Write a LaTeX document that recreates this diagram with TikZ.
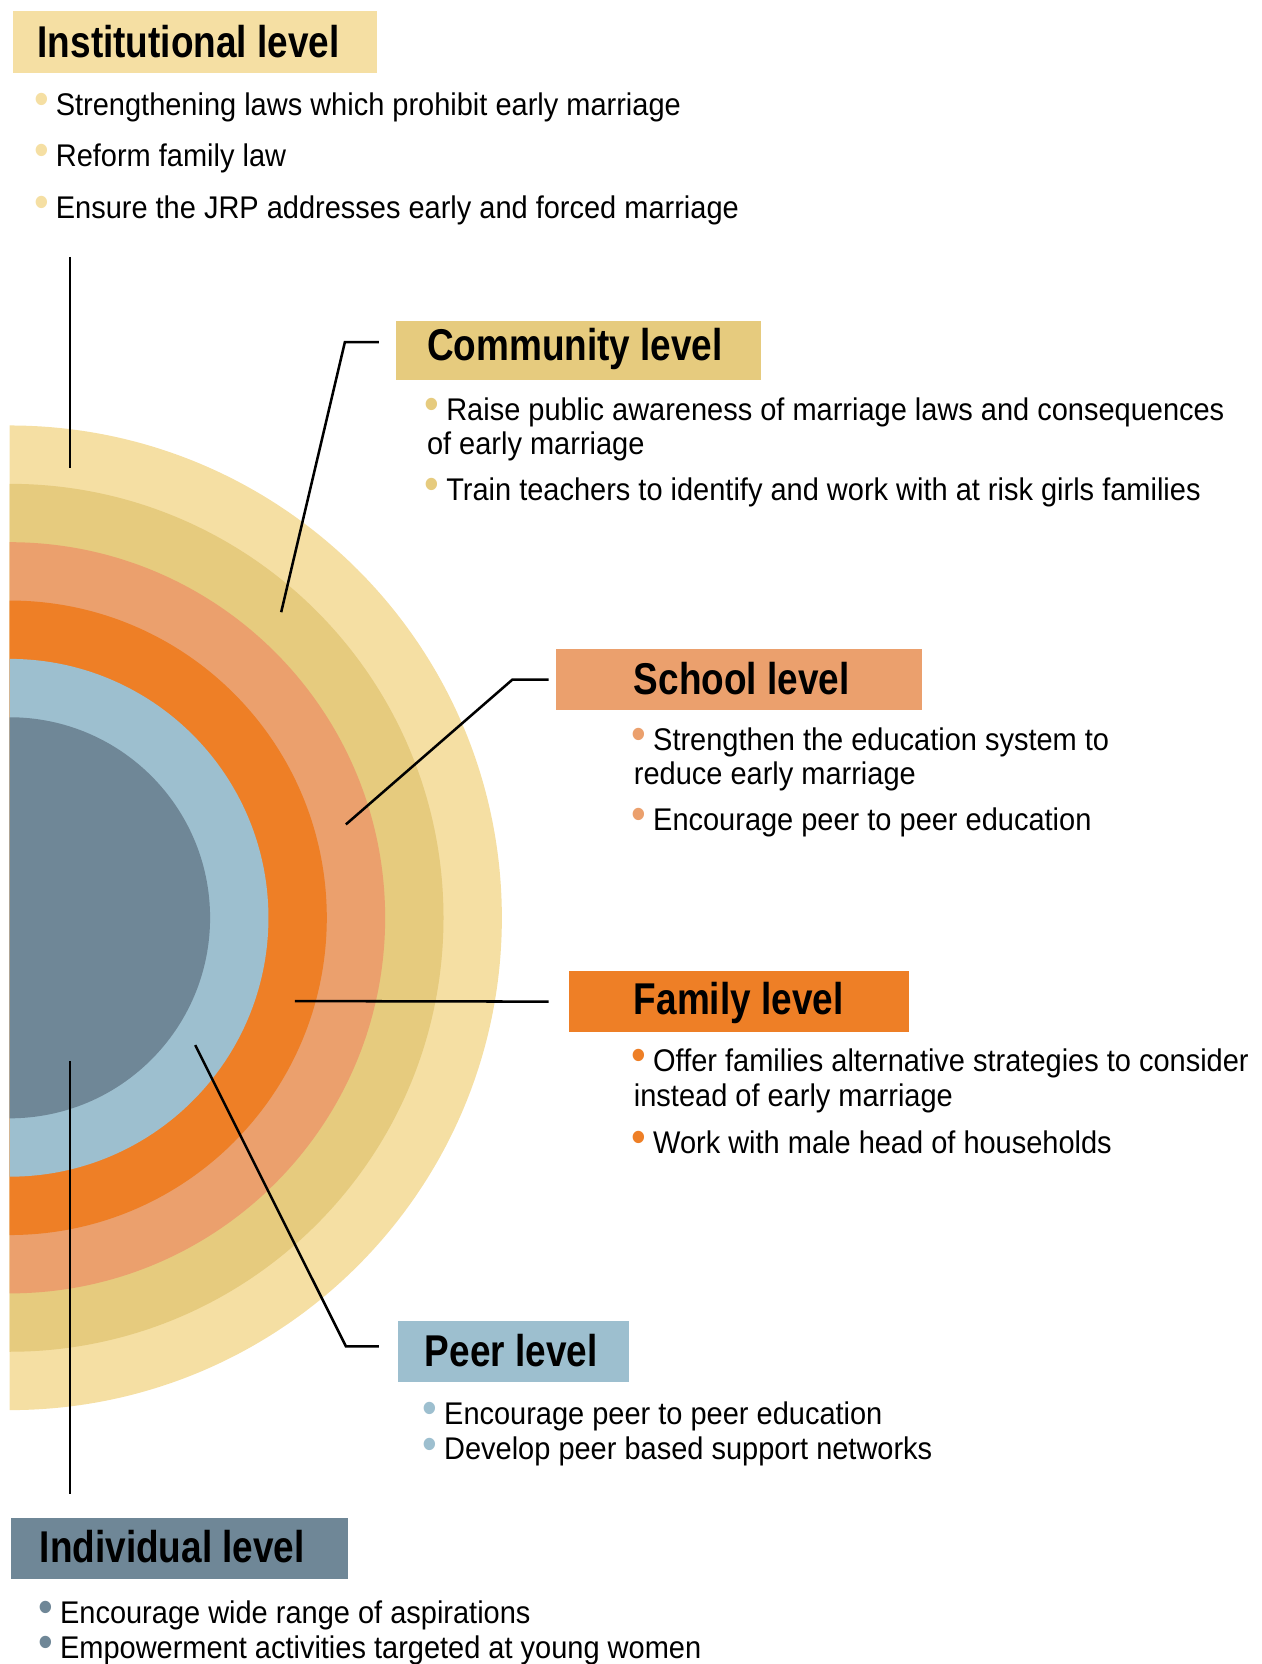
\documentclass[tikz,border=0pt]{standalone}
\usepackage{fontspec}
\setmainfont{Liberation Sans}[FakeStretch=0.925]
\newfontfamily\headfont{Liberation Sans}[FakeStretch=0.83]

\definecolor{instcol}{RGB}{245,223,163}
\definecolor{commcol}{RGB}{230,203,126}
\definecolor{schoolcol}{RGB}{235,160,109}
\definecolor{famcol}{RGB}{238,127,38}
\definecolor{peercol}{RGB}{157,191,207}
\definecolor{indivcol}{RGB}{111,135,151}

\newcommand{\lvdot}[1]{\textcolor{#1}{\raisebox{0.05ex}{\scalebox{1.45}{•}}}\hspace{5pt}}

\tikzset{every picture/.style={line width=0.75pt}}
\tikzset{
  banner/.style={anchor=north west, rectangle, inner sep=0pt, draw=none},
  head/.style={anchor=west, inner sep=0pt, font=\fontsize{33.4}{36}\headfont\bfseries},
  item/.style={anchor=base west, inner sep=0pt, text height=16pt, text depth=5pt, font=\fontsize{23.5}{27}\selectfont},
  tightlist/.style={anchor=base west, inner sep=0pt, align=left, font=\fontsize{23.5}{26.5}\selectfont},
  leader/.style={line width=1.9pt, line join=miter}
}

\begin{document}
\begin{tikzpicture}[x=0.7958pt,y=0.7958pt,yscale=-1,xscale=1]
		\useasboundingbox (0,0) rectangle (1188.5,1568.3);

		%Rings, cut at the left edge
		\begin{scope}
		\clip (9,380) rectangle (520,1350);
		\fill [instcol] (9,865) circle (464);
		\fill [commcol] (9,865) circle (409);
		\fill [schoolcol] (9,865) circle (354);
		\fill [famcol] (9,865) circle (299);
		\fill [peercol] (9,865) circle (244);
		\fill [indivcol] (9,865) circle (189);
		\end{scope}

		%Banners
		\node [banner, fill=instcol, minimum width=273pt, minimum height=46.2pt] (inst) at (12,10) {};
		\node [banner, fill=commcol, minimum width=273.8pt, minimum height=44.6pt] (comm) at (373,302) {};
		\node [banner, fill=schoolcol, minimum width=273.8pt, minimum height=46.2pt] (school) at (524,611) {};
		\node [banner, fill=famcol, minimum width=254.7pt, minimum height=45.4pt] (fam) at (536,915) {};
		\node [banner, fill=peercol, minimum width=172.7pt, minimum height=45.4pt] (peer) at (375,1245) {};
		\node [banner, fill=indivcol, minimum width=253pt, minimum height=46.2pt] (indiv) at (10,1430) {};

		% Heading Nodes
		\node [head] (insthead) at (35,39) {Institutional level};
		\node [head] (commhead) at (402,329) {Community level};
		\node [head] (schoolhead) at (597,640) {School level};
		\node [head] (famhead) at (597,945) {Family level};
		\node [head] (peerhead) at (400,1273) {Peer level};
		\node [head] (indivhead) at (37,1458) {Individual level};

		% Institutional items
		\node [item] (inst1) at (32,109) {\lvdot{instcol}Strengthening laws which prohibit early marriage};
		\node [item] (inst2) at (32,157) {\lvdot{instcol}Reform family law};
		\node [item] (inst3) at (32,206) {\lvdot{instcol}Ensure the JRP addresses early and forced marriage};
		% Community items
		\node [item] (comm1) at (400,396) {\lvdot{commcol}Raise public awareness of marriage laws and consequences};
		\node [item] (comm1b) at (402,428) {of early marriage};
		\node [item] (comm2) at (400,472) {\lvdot{commcol}Train teachers to identify and work with at risk girls families};
		% School items
		\node [item] (school1) at (595,707) {\lvdot{schoolcol}Strengthen the education system to};
		\node [item] (school1b) at (597,739) {reduce early marriage};
		\node [item] (school2) at (595,783) {\lvdot{schoolcol}Encourage peer to peer education};
		% Family items
		\node [item] (fam1) at (595,1010) {\lvdot{famcol}Offer families alternative strategies to consider};
		\node [item] (fam1b) at (597,1043) {instead of early marriage};
		\node [item] (fam2) at (595,1087) {\lvdot{famcol}Work with male head of households};
		% Peer items (base is the last line)
		\node [tightlist] (peeritems) at (398,1376) {\lvdot{peercol}Encourage peer to peer education\\
			\lvdot{peercol}Develop peer based support networks};
		% Individual items (base is the last line)
		\node [tightlist] (indivitems) at (36,1563) {\lvdot{indivcol}Encourage wide range of aspirations\\
			\lvdot{indivcol}Empowerment activities targeted at young women};

		%Leader ends in the rings
		\coordinate (insttop) at (66,242);
		\coordinate (instring) at (66,441);
		\coordinate (commring) at (265,577);
		\coordinate (schoolring) at (326,777);
		\coordinate (famring) at (278,943.5);
		\coordinate (peerring) at (184,985);
		\coordinate (indivring) at (66,1000);
		\coordinate (indivbot) at (66,1408);

		%Leaders
		\draw [leader] (insttop) -- (instring);
		\draw [leader] ([xshift=-12.7pt,yshift=-6.4pt]comm.west) -- ++(-32,0) -- (commring);
		\draw [leader] ([xshift=-5.6pt]school.west) -- ++(-34,0) -- (schoolring);
		\draw [leader] ([xshift=-15.1pt]fam.west) -- (famring);
		\draw [leader] ([xshift=-14.3pt,yshift=-4pt]peer.west) -- ++(-31,0) -- (peerring);
		\draw [leader] (indivring) -- (indivbot);
	\end{tikzpicture}
\end{document}
